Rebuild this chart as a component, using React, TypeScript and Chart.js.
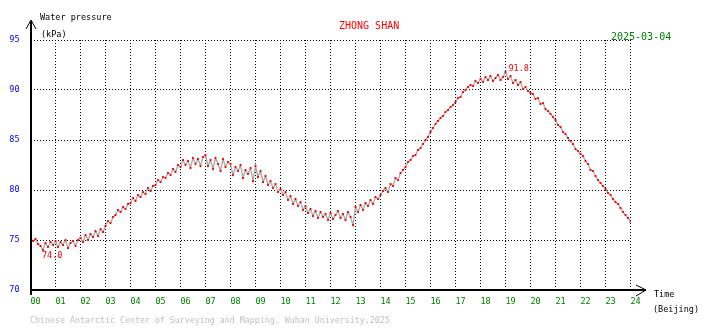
import { useEffect, useRef } from "react";
import { Chart, registerables } from "chart.js";

Chart.register(...registerables);

// Water pressure (kPa), one sample every 6 minutes, grouped by hour (Beijing time)
const H00 = [75.2, 74.9, 75.1, 74.6, 74.4, 74.0, 74.7, 74.3, 74.8, 74.5];
const H01 = [74.9, 74.3, 74.8, 74.5, 75.0, 74.2, 74.7, 74.9, 74.4, 75.0];
const H02 = [75.2, 74.8, 75.5, 75.0, 75.6, 75.3, 75.9, 75.4, 76.1, 75.8];
const H03 = [76.4, 76.9, 76.7, 77.3, 77.5, 78.0, 77.8, 78.3, 78.1, 78.6];
const H04 = [78.7, 79.2, 78.9, 79.5, 79.3, 79.8, 79.6, 80.2, 79.9, 80.4];
const H05 = [80.5, 81.0, 80.8, 81.3, 81.2, 81.7, 81.5, 82.1, 81.8, 82.5];
const H06 = [82.3, 83.0, 82.5, 82.9, 82.2, 83.2, 82.6, 83.1, 82.4, 83.3];
const H07 = [83.5, 82.4, 83.0, 82.1, 83.2, 82.6, 81.9, 83.1, 82.3, 82.8];
const H08 = [82.6, 81.5, 82.3, 81.9, 82.5, 81.2, 82.0, 81.6, 82.2, 80.9];
const H09 = [82.4, 81.3, 81.9, 80.8, 81.4, 80.5, 80.9, 80.2, 80.6, 79.8];
const H10 = [80.1, 79.5, 79.8, 79.0, 79.4, 78.6, 79.1, 78.4, 78.8, 78.0];
const H11 = [78.4, 77.7, 78.1, 77.4, 77.9, 77.2, 77.8, 77.3, 77.6, 77.0];
const H12 = [77.7, 77.1, 77.5, 77.9, 77.2, 77.6, 77.0, 77.8, 77.3, 76.5];
const H13 = [78.3, 77.8, 78.5, 78.0, 78.7, 78.4, 79.0, 78.6, 79.3, 79.1];
const H14 = [79.5, 79.9, 80.2, 79.8, 80.6, 80.4, 81.2, 81.0, 81.7, 82.0];
const H15 = [82.3, 82.8, 83.0, 83.4, 83.5, 84.0, 84.2, 84.6, 85.0, 85.3];
const H16 = [85.8, 86.2, 86.6, 86.9, 87.2, 87.4, 87.8, 88.0, 88.3, 88.5];
const H17 = [88.8, 89.2, 89.3, 89.8, 90.0, 90.3, 90.5, 90.4, 90.9, 90.7];
const H18 = [91.1, 90.8, 91.3, 91.0, 91.4, 90.9, 91.2, 91.5, 91.0, 91.3];
const H19 = [91.8, 91.1, 91.4, 90.7, 91.0, 90.5, 90.8, 90.1, 90.3, 89.9];
const H20 = [89.7, 89.6, 89.1, 89.2, 88.6, 88.7, 88.1, 87.9, 87.6, 87.3];
const H21 = [87.0, 86.5, 86.3, 85.8, 85.6, 85.2, 84.9, 84.6, 84.1, 83.9];
const H22 = [83.6, 83.4, 82.9, 82.6, 82.0, 81.9, 81.4, 81.0, 80.7, 80.4];
const H23 = [80.1, 79.7, 79.5, 79.1, 78.8, 78.6, 78.2, 77.8, 77.5, 77.2];
const H24 = [76.8];

const SAMPLES_PER_HOUR = 10;

const X_TICK_LABELS = [
  "00", "01", "02", "03", "04", "05", "06", "07", "08", "09", "10", "11", "12",
  "13", "14", "15", "16", "17", "18", "19", "20", "21", "22", "23", "24",
];
const Y_TICKS = [70, 75, 80, 85, 90, 95];

const TITLE = "ZHONG SHAN";
const DATE = "2025-03-04";
const Y_NAME = "Water pressure";
const Y_UNIT = "(kPa)";
const X_NAME = "Time";
const X_UNIT = "(Beijing)";
const FOOTER = "Chinese Antarctic Center of Surveying and Mapping, Wuhan University,2025";

const MONO = "'DejaVu Sans Mono', 'Liberation Mono', monospace";

export default function App() {
  const ref = useRef<HTMLCanvasElement | null>(null);

  useEffect(() => {
    const canvas = ref.current;
    if (!canvas) return;
    const pressure = [
      ...H00, ...H01, ...H02, ...H03, ...H04, ...H05, ...H06, ...H07, ...H08,
      ...H09, ...H10, ...H11, ...H12, ...H13, ...H14, ...H15, ...H16, ...H17,
      ...H18, ...H19, ...H20, ...H21, ...H22, ...H23, ...H24,
    ];
    const points = pressure.map((v, i) => ({ x: i / SAMPLES_PER_HOUR, y: v }));
    let minI = 0;
    let maxI = 0;
    pressure.forEach((v, i) => {
      if (v < pressure[minI]) minI = i;
      if (v > pressure[maxI]) maxI = i;
    });

    const decor = {
      id: "decor",
      afterDraw(chart: any) {
        const ctx = chart.ctx as CanvasRenderingContext2D;
        const { left, bottom } = chart.chartArea;
        const xs = chart.scales.x;
        const ys = chart.scales.y;
        ctx.save();
        ctx.strokeStyle = "#000";
        ctx.lineWidth = 2;
        const ax = Math.round(left);
        const ay = Math.round(bottom);
        ctx.beginPath();
        ctx.moveTo(ax, 21);
        ctx.lineTo(ax, ay + 5);
        ctx.moveTo(ax - 1, ay);
        ctx.lineTo(646, ay);
        ctx.stroke();
        ctx.lineWidth = 1;
        ctx.beginPath();
        ctx.moveTo(ax - 5, 29);
        ctx.lineTo(ax, 20);
        ctx.lineTo(ax + 5, 29);
        ctx.moveTo(636, ay - 5);
        ctx.lineTo(646, ay);
        ctx.lineTo(636, ay + 6);
        ctx.stroke();

        ctx.textBaseline = "alphabetic";
        ctx.textAlign = "left";
        ctx.font = `8.5px ${MONO}`;
        ctx.fillStyle = "#000";
        ctx.fillText(Y_NAME, 40, 20);
        ctx.fillText(Y_UNIT, 41, 37);
        ctx.fillText(X_NAME, 654, 297);
        ctx.fillText(X_UNIT, 653, 312);
        ctx.fillStyle = "#c0c0c0";
        ctx.font = `8.3px ${MONO}`;
        ctx.fillText(FOOTER, 30, 323);

        ctx.font = `10px ${MONO}`;
        ctx.fillStyle = "#ff0000";
        ctx.fillText(TITLE, 339, 29);
        ctx.fillStyle = "#008000";
        ctx.fillText(DATE, 611, 40);

        ctx.font = `8.5px ${MONO}`;
        ctx.fillStyle = "#ff0000";
        const minPt = points[minI];
        const maxPt = points[maxI];
        ctx.fillText(minPt.y.toFixed(1), xs.getPixelForValue(minPt.x) - 1, ys.getPixelForValue(minPt.y) + 8);
        ctx.fillText(maxPt.y.toFixed(1), xs.getPixelForValue(maxPt.x) + 3, ys.getPixelForValue(maxPt.y) - 1);
        ctx.restore();
      },
    };

    const chart = new Chart(canvas, {
      type: "line",
      data: {
        datasets: [
          {
            data: points,
            borderColor: "#a8a8a8",
            borderWidth: 1.3,
            pointStyle: "rect",
            pointRadius: 1.25,
            pointBorderWidth: 0,
            pointBackgroundColor: "#ff0000",
            pointBorderColor: "#ff0000",
            tension: 0,
            fill: false,
          },
        ],
      },
      options: {
        responsive: false,
        animation: false,
        events: [],
        layout: { padding: { top: 40, right: 79.5, bottom: 0, left: 0 } },
        plugins: { legend: { display: false }, tooltip: { enabled: false }, title: { display: false } },
        scales: {
          x: {
            type: "linear",
            min: 0,
            max: 24,
            afterBuildTicks: (s: any) => {
              s.ticks = X_TICK_LABELS.map((_, i) => ({ value: i }));
            },
            afterFit: (s: any) => {
              s.height = 38;
            },
            ticks: {
              autoSkip: false,
              maxRotation: 0,
              align: "start",
              padding: 7,
              color: "#008000",
              font: { family: MONO, size: 8.5 },
              callback: (v: any) => X_TICK_LABELS[Math.round(Number(v))],
            },
            grid: {
              drawTicks: false,
              color: (c: any) => (c.tick && c.tick.value === 0 ? "rgba(0,0,0,0)" : "#000"),
              lineWidth: 1,
            },
            border: { display: false, dash: [1, 2] },
          },
          y: {
            min: 70,
            max: 95,
            afterBuildTicks: (s: any) => {
              s.ticks = Y_TICKS.map((v) => ({ value: v }));
            },
            afterFit: (s: any) => {
              s.width = 30.5;
            },
            ticks: {
              padding: 11,
              color: "#0000ff",
              font: { family: MONO, size: 8.5 },
              callback: (v: any) => String(v),
            },
            grid: {
              drawTicks: false,
              color: (c: any) => (c.tick && c.tick.value === 70 ? "rgba(0,0,0,0)" : "#000"),
              lineWidth: 1,
            },
            border: { display: false, dash: [1, 2] },
          },
        },
      } as any,
      plugins: [decor],
    });
    return () => chart.destroy();
  }, []);

  return (
    <div style={{ position: "absolute", left: 0, top: 0, width: 710, height: 328, background: "#fff" }}>
      <canvas ref={ref} width={710} height={328} style={{ display: "block", width: 710, height: 328 }} />
    </div>
  );
}
